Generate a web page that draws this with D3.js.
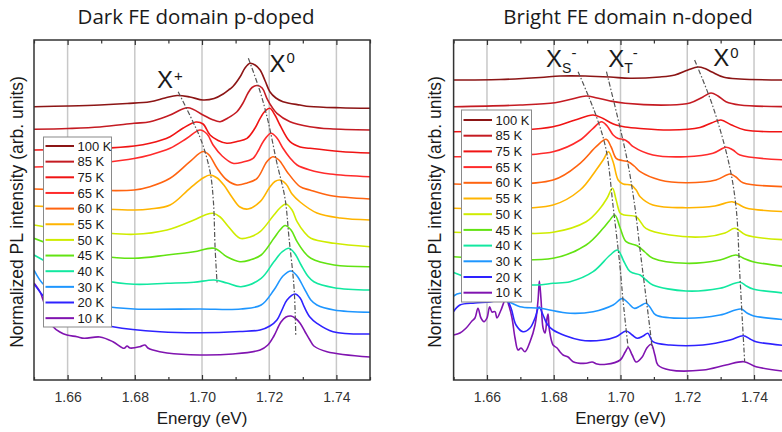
<!DOCTYPE html>
<html>
<head>
<meta charset="utf-8">
<script src="https://d3js.org/d3.v7.min.js"></script>
<style>
body { margin: 0; background: #fff; }
svg { display: block; }
text { font-family: "Liberation Sans", Arial, sans-serif; fill: #1a1a1a; }
</style>
</head>
<body>
<svg></svg>
<script>
const width = 782;
const height = 432;
const plotTop = 40;
const plotBottom = 380;

// temperatures, top curve first
const temps = ['100 K', '85 K', '75 K', '65 K', '60 K', '55 K', '50 K', '45 K', '40 K', '30 K', '20 K', '10 K'];
const lineColors = ['#8c1515', '#c41b22', '#f01414', '#ff2b2b', '#ff6410', '#ffb400', '#cfec00', '#62e312',
	'#12e8a0', '#1e96ff', '#2e22ff', '#8014b0'];

const energyDomain = [1.65, 1.75];
const intensityDomain = [0, 34];
const energyTicks = [1.66, 1.68, 1.70, 1.72, 1.74];
const minorTicks = [1.65, 1.67, 1.69, 1.71, 1.73, 1.75];

// dark FE domain (p-doped): [energy eV, stacked normalized intensity]
const darkSpectra = [
	// 100 K
	[[1.65,27.33],[1.6601,27.4],[1.6696,27.5],[1.6777,27.65],[1.6845,27.83],[1.689,28.2],[1.6926,28.45],[1.6964,28.3],[1.7003,28.0],[1.7036,28.15],[1.7063,28.6],[1.7083,29.1],[1.7092,29.35],[1.7113,30.3],[1.7128,31.2],[1.7143,31.67],[1.7158,31.5],[1.7173,31.0],[1.7188,29.9],[1.7202,28.83],[1.722,28.2],[1.7241,27.83],[1.7292,27.5],[1.7321,27.35],[1.7411,27.22],[1.75,27.17]],
	// 85 K
	[[1.65,25.07],[1.6601,25.15],[1.6696,25.3],[1.6798,25.67],[1.6845,25.83],[1.6905,26.5],[1.6958,27.23],[1.7003,26.5],[1.703,26.05],[1.7054,25.83],[1.7077,26.2],[1.7104,26.83],[1.7122,27.7],[1.7137,28.7],[1.7149,29.25],[1.7164,29.45],[1.7179,29.2],[1.7193,28.17],[1.7208,27.3],[1.7223,26.67],[1.7262,25.83],[1.7321,25.33],[1.7381,25.12],[1.75,25.0]],
	// 75 K
	[[1.65,23.0],[1.6601,23.05],[1.6696,23.15],[1.6798,23.4],[1.6845,23.67],[1.6905,24.33],[1.6943,25.17],[1.6982,25.8],[1.7003,25.6],[1.7024,24.5],[1.7048,23.95],[1.7074,23.67],[1.7104,23.85],[1.7134,24.17],[1.7158,25.2],[1.7173,26.17],[1.7188,26.9],[1.7202,27.17],[1.7217,26.5],[1.7232,25.5],[1.7262,23.83],[1.7292,23.3],[1.7321,23.17],[1.7411,22.85],[1.75,22.7]],
	// 65 K
	[[1.65,21.3],[1.6601,21.4],[1.6696,21.7],[1.6798,22.15],[1.6845,22.5],[1.6905,23.17],[1.6955,24.17],[1.6994,25.0],[1.7015,24.6],[1.7033,23.5],[1.706,22.4],[1.7092,21.67],[1.7122,21.8],[1.7152,22.17],[1.7167,22.9],[1.7182,23.83],[1.7205,24.67],[1.7223,24.2],[1.7241,23.17],[1.7262,22.2],[1.7283,21.5],[1.7321,21.0],[1.7381,20.6],[1.75,20.33]],
	// 60 K
	[[1.65,19.1],[1.6601,19.0],[1.6696,18.95],[1.6798,19.0],[1.6845,19.33],[1.6905,20.17],[1.6964,21.83],[1.7003,22.85],[1.7021,22.5],[1.7045,21.17],[1.7074,20.0],[1.7104,19.5],[1.7134,19.7],[1.7164,20.17],[1.7193,21.83],[1.7211,22.33],[1.7229,22.0],[1.7253,20.83],[1.7292,19.33],[1.7321,19.0],[1.7381,18.45],[1.75,18.1]],
	// 55 K
	[[1.65,17.4],[1.6601,17.25],[1.6696,17.1],[1.6798,17.0],[1.6845,17.1],[1.6905,17.5],[1.6964,19.17],[1.7003,20.2],[1.7024,20.5],[1.7045,20.2],[1.7065,19.5],[1.7089,18.3],[1.7113,17.3],[1.7137,17.1],[1.7173,17.83],[1.7202,19.3],[1.7217,19.85],[1.7232,20.0],[1.725,19.6],[1.7268,18.6],[1.7292,17.8],[1.7342,16.7],[1.7411,16.2],[1.75,16.0]],
	// 50 K
	[[1.65,15.5],[1.6601,15.0],[1.6696,14.75],[1.6798,14.57],[1.6896,15.0],[1.6976,16.0],[1.7009,16.5],[1.7033,16.67],[1.7054,16.3],[1.7077,15.4],[1.7113,14.17],[1.7143,14.3],[1.7173,14.83],[1.7214,16.5],[1.7232,17.2],[1.725,17.6],[1.7268,17.0],[1.7283,15.83],[1.7304,14.8],[1.7324,14.17],[1.7393,13.67],[1.75,13.33]],
	// 45 K
	[[1.65,14.17],[1.6601,13.0],[1.6696,12.4],[1.6798,12.17],[1.6896,12.5],[1.6976,12.83],[1.7036,13.17],[1.7074,12.33],[1.7113,11.83],[1.7143,12.0],[1.7176,12.5],[1.7214,14.17],[1.7232,15.0],[1.7247,15.45],[1.7265,15.0],[1.7283,13.83],[1.7304,12.8],[1.7324,12.17],[1.7393,11.5],[1.75,11.33]],
	// 40 K
	[[1.65,12.5],[1.6601,10.8],[1.6696,10.0],[1.6798,9.57],[1.6896,9.67],[1.6976,9.77],[1.7036,10.0],[1.7074,9.7],[1.7116,9.33],[1.7176,10.17],[1.7214,11.83],[1.7238,12.8],[1.7259,13.17],[1.7277,12.6],[1.7295,11.5],[1.7315,10.4],[1.7333,9.83],[1.7393,9.23],[1.75,9.0]],
	// 30 K
	[[1.65,11.0],[1.653,9.5],[1.6601,8.0],[1.6696,7.4],[1.6798,7.1],[1.6994,7.1],[1.7116,7.1],[1.7176,7.5],[1.7214,9.0],[1.7241,10.4],[1.7265,10.9],[1.7283,10.4],[1.7304,9.17],[1.7324,8.0],[1.7342,7.5],[1.7393,7.0],[1.75,6.77]],
	// 20 K
	[[1.65,9.6],[1.6518,8.8],[1.653,8.3],[1.6577,7.0],[1.6637,6.2],[1.6735,5.33],[1.6875,4.83],[1.6994,4.73],[1.7113,4.85],[1.7173,5.0],[1.7202,5.4],[1.7223,6.0],[1.7238,7.0],[1.7253,8.0],[1.7277,8.6],[1.7292,8.2],[1.7304,7.33],[1.7321,6.3],[1.7342,5.67],[1.739,4.83],[1.75,4.6]],
	// 10 K
	[[1.65,9.7],[1.6518,8.8],[1.6527,8.0],[1.6542,6.5],[1.6557,5.33],[1.6577,4.8],[1.6598,4.5],[1.6628,4.33],[1.6649,4.17],[1.6696,4.3],[1.6735,3.83],[1.6768,3.17],[1.6777,3.4],[1.6786,3.2],[1.6815,3.33],[1.683,3.5],[1.6839,3.2],[1.6854,3.0],[1.6896,2.7],[1.6994,2.5],[1.7092,2.6],[1.7173,3.0],[1.7196,3.5],[1.7214,4.4],[1.7235,5.8],[1.725,6.3],[1.7265,6.4],[1.7277,6.2],[1.7292,5.67],[1.7307,4.8],[1.7321,4.0],[1.7333,3.4],[1.7372,2.83],[1.75,2.3]]
];

// bright FE domain (n-doped)
const brightSpectra = [
	// 100 K
	[[1.65,30.0],[1.6639,30.05],[1.6759,30.25],[1.6819,30.4],[1.6894,30.4],[1.6969,30.3],[1.7029,30.17],[1.7118,30.3],[1.7163,30.5],[1.7202,31.0],[1.7232,31.3],[1.7253,31.15],[1.7274,30.8],[1.731,30.27],[1.7358,30.1],[1.75,30.0]],
	// 85 K
	[[1.65,27.33],[1.6699,27.5],[1.6804,27.73],[1.6855,28.1],[1.6897,28.4],[1.693,28.2],[1.6969,27.9],[1.7014,27.67],[1.7148,27.5],[1.7208,27.7],[1.7247,28.3],[1.7271,28.7],[1.7292,28.4],[1.7316,27.83],[1.7358,27.5],[1.75,27.33]],
	// 75 K
	[[1.65,24.83],[1.6699,25.0],[1.6798,25.33],[1.6864,26.0],[1.6918,26.5],[1.6948,26.15],[1.6969,25.75],[1.6987,25.5],[1.7014,25.3],[1.7059,25.15],[1.7148,25.0],[1.7238,25.25],[1.7274,25.73],[1.7301,26.0],[1.7331,25.53],[1.7373,25.0],[1.75,24.83]],
	// 65 K
	[[1.65,22.33],[1.6798,22.83],[1.6879,24.0],[1.6918,25.17],[1.6943,25.83],[1.696,25.4],[1.6978,24.5],[1.6993,24.15],[1.7008,24.07],[1.7023,23.8],[1.7038,23.33],[1.7097,22.5],[1.7196,22.33],[1.7277,22.67],[1.7316,23.27],[1.7337,23.0],[1.7358,22.5],[1.75,22.0]],
	// 60 K
	[[1.65,19.6],[1.6798,20.0],[1.6879,21.67],[1.6927,23.33],[1.6957,24.07],[1.6972,23.3],[1.6987,22.17],[1.7005,21.95],[1.7023,21.83],[1.7041,21.4],[1.7059,20.83],[1.7118,20.0],[1.7196,19.73],[1.7286,20.0],[1.7328,20.6],[1.7346,20.3],[1.7367,19.73],[1.75,19.33]],
	// 55 K
	[[1.65,17.17],[1.6798,17.5],[1.6879,19.0],[1.6927,21.0],[1.6948,22.0],[1.6964,22.83],[1.6978,21.8],[1.6993,20.0],[1.7008,19.6],[1.7032,19.5],[1.7047,19.0],[1.7059,18.33],[1.7097,17.5],[1.7196,17.23],[1.7283,17.4],[1.7334,17.83],[1.7352,17.6],[1.7376,17.2],[1.75,16.83]],
	// 50 K
	[[1.65,14.77],[1.6699,14.67],[1.6798,14.77],[1.6897,15.83],[1.6939,17.17],[1.696,18.2],[1.6976,19.17],[1.6987,18.0],[1.6999,16.7],[1.7011,16.5],[1.7047,16.33],[1.7076,15.17],[1.7148,14.5],[1.7256,14.33],[1.7313,14.7],[1.7343,15.17],[1.7376,14.5],[1.75,14.0]],
	// 45 K
	[[1.65,12.33],[1.6798,12.17],[1.6897,13.5],[1.6948,15.17],[1.6966,15.9],[1.6983,16.5],[1.6999,15.2],[1.7017,13.83],[1.705,13.43],[1.7073,12.8],[1.7097,12.17],[1.7196,11.67],[1.7298,12.0],[1.7346,12.5],[1.7367,12.2],[1.7397,11.83],[1.75,11.33]],
	// 40 K
	[[1.65,10.75],[1.6549,10.2],[1.6747,9.5],[1.6798,9.67],[1.6849,9.83],[1.6918,10.83],[1.6969,12.5],[1.6991,13.0],[1.7011,11.8],[1.7029,10.83],[1.7059,10.5],[1.7077,10.0],[1.7097,9.5],[1.7196,8.9],[1.7298,9.17],[1.7358,9.77],[1.7377,9.4],[1.7397,9.1],[1.75,8.67]],
	// 30 K
	[[1.65,8.4],[1.6519,8.67],[1.6579,8.2],[1.6663,7.83],[1.6699,7.33],[1.6759,7.17],[1.6849,6.67],[1.6918,6.83],[1.6978,7.5],[1.7005,8.15],[1.7023,7.7],[1.7041,7.17],[1.7059,7.4],[1.7076,7.67],[1.7088,7.3],[1.7106,6.5],[1.7196,6.17],[1.7298,6.5],[1.7361,7.1],[1.7379,6.7],[1.7397,6.43],[1.75,6.0]],
	// 20 K
	[[1.65,6.85],[1.6519,7.5],[1.6564,7.7],[1.6609,7.8],[1.6639,8.0],[1.6657,8.15],[1.6672,7.2],[1.6687,5.5],[1.6708,4.83],[1.6729,5.2],[1.6744,6.2],[1.6756,7.3],[1.6768,6.5],[1.678,5.6],[1.6798,5.0],[1.6879,4.0],[1.6948,4.0],[1.6987,4.33],[1.7017,4.9],[1.7035,4.5],[1.705,4.17],[1.7068,4.4],[1.7082,4.67],[1.7097,3.83],[1.7148,3.5],[1.7247,3.5],[1.7328,4.0],[1.7368,4.43],[1.7388,4.1],[1.7406,3.83],[1.75,3.43]],
	// 10 K
	[[1.65,4.5],[1.6519,4.7],[1.6537,5.17],[1.6555,5.9],[1.6564,6.2],[1.6573,7.17],[1.6582,6.2],[1.6591,5.83],[1.66,6.2],[1.6608,7.33],[1.6615,6.8],[1.6624,6.83],[1.663,6.2],[1.6642,7.0],[1.6657,8.15],[1.6666,7.4],[1.6675,6.2],[1.6684,4.2],[1.6693,3.0],[1.6702,3.2],[1.6714,2.83],[1.6729,3.83],[1.6744,5.5],[1.6753,8.0],[1.6757,9.9],[1.6762,8.0],[1.6768,5.2],[1.6774,4.7],[1.678,6.2],[1.6783,6.6],[1.6787,5.0],[1.6798,3.5],[1.681,3.2],[1.6819,2.8],[1.6828,2.5],[1.6843,2.3],[1.6858,1.83],[1.6897,1.67],[1.6915,1.8],[1.693,1.6],[1.6957,1.57],[1.6999,2.0],[1.7014,2.8],[1.7023,3.25],[1.7035,2.5],[1.7047,1.8],[1.7065,2.3],[1.7079,3.2],[1.7092,3.57],[1.7103,2.5],[1.7112,1.5],[1.7148,1.0],[1.7247,1.0],[1.7316,1.5],[1.737,1.83],[1.7406,1.33],[1.75,0.83]]
];

// peak-position guides (dash-dot)
const darkGuides = [
	[[1.6929,28.83],[1.6973,25.83],[1.6999,23.83],[1.7024,20.83],[1.7034,17.83],[1.7039,13.2],[1.7045,9.6]],
	[[1.7138,32.17],[1.7173,28.83],[1.7197,25.83],[1.7222,21.83],[1.7247,18.17],[1.7259,14.2],[1.7274,9.2],[1.7279,4.5]]
];
const brightGuides = [
	[[1.6873,30.83],[1.6928,26.33],[1.6957,23.0],[1.6978,17.33],[1.6998,11.5],[1.7008,7.83],[1.7023,3.17]],
	[[1.6958,30.83],[1.6998,25.33],[1.7023,21.5],[1.7043,17.33],[1.7058,13.17],[1.7073,9.17],[1.7088,5.17],[1.7095,3.17]],
	[[1.7222,32.0],[1.7277,27.33],[1.7327,21.33],[1.7347,17.0],[1.7357,10.83],[1.7368,4.17],[1.7372,1.83]]
];

var svg;

function drawPanel(p){
	const x = d3.scaleLinear().domain(energyDomain).range([p.left, p.right]);
	const y = d3.scaleLinear().domain(intensityDomain).range([plotBottom, plotTop]);
	const g = svg.append('g');

	const clipId = 'clip-' + p.id;
	g.append('clipPath').attr('id', clipId).append('rect')
	.attr('x', p.left).attr('y', plotTop)
	.attr('width', p.right - p.left).attr('height', plotBottom - plotTop);

	// vertical grid at major ticks
	g.selectAll('line.grid').data(energyTicks).enter().append('line')
	.classed('grid', true)
	.attr('x1', d => x(d)).attr('x2', d => x(d))
	.attr('y1', plotTop).attr('y2', plotBottom)
	.style('stroke', '#c8c8c8').style('stroke-width', 1.5);

	// bottom axis, ticks inward
	const axB = g.append('g').attr('transform', 'translate(0,' + plotBottom + ')')
	.call(d3.axisBottom(x).tickValues(energyTicks).tickFormat(d3.format('.2f'))
		.tickSizeInner(-5).tickSizeOuter(0).tickPadding(12));
	axB.select('.domain').remove();
	axB.selectAll('text').style('font-size', '14px').style('fill', '#333');
	axB.selectAll('line').style('stroke', '#333').style('stroke-width', 1.2);

	const axBm = g.append('g').attr('transform', 'translate(0,' + plotBottom + ')')
	.call(d3.axisBottom(x).tickValues(minorTicks).tickFormat('').tickSizeInner(-3).tickSizeOuter(0));
	axBm.select('.domain').remove();
	axBm.selectAll('line').style('stroke', '#333').style('stroke-width', 1.2);

	// top axis, ticks inward, no labels
	const axT = g.append('g').attr('transform', 'translate(0,' + plotTop + ')')
	.call(d3.axisTop(x).tickValues(energyTicks).tickFormat('').tickSizeInner(-5).tickSizeOuter(0));
	axT.select('.domain').remove();
	axT.selectAll('line').style('stroke', '#333').style('stroke-width', 1.2);

	const axTm = g.append('g').attr('transform', 'translate(0,' + plotTop + ')')
	.call(d3.axisTop(x).tickValues(minorTicks).tickFormat('').tickSizeInner(-3.5).tickSizeOuter(0));
	axTm.select('.domain').remove();
	axTm.selectAll('line').style('stroke', '#333').style('stroke-width', 1.2);

	// spectra, lowest first
	const line = d3.line().x(d => x(d[0])).y(d => y(d[1])).curve(d3.curveCatmullRom.alpha(0.5));
	const curves = g.append('g').attr('clip-path', 'url(#' + clipId + ')');
	curves.selectAll('path.spectrum').data(p.spectra.map((s, i) => ({s: s, i: i})).reverse())
	.enter().append('path').classed('spectrum', true)
	.attr('d', d => line(d.s))
	.style('fill', 'none').style('stroke', d => lineColors[d.i])
	.style('stroke-width', 1.6).style('stroke-linejoin', 'round');

	// dash-dot guides
	const guide = d3.line().x(d => x(d[0])).y(d => y(d[1])).curve(d3.curveCatmullRom);
	curves.selectAll('path.guide').data(p.guides).enter().append('path')
	.classed('guide', true).attr('d', guide)
	.style('fill', 'none').style('stroke', '#555').style('stroke-width', 1.2)
	.style('stroke-dasharray', '5,2,1.5,2');

	// frame
	g.append('rect').attr('x', p.left).attr('y', plotTop)
	.attr('width', p.right - p.left).attr('height', plotBottom - plotTop)
	.style('fill', 'none').style('stroke', '#333').style('stroke-width', 1.5);

	// peak labels
	p.labels.forEach(l => {
		const t = g.append('text').attr('x', x(l.e)).attr('y', y(l.v))
		.style('font-size', '24px');
		t.append('tspan').text('X');
		if(l.sub){
			t.append('tspan').text(l.sub).attr('dy', 6).style('font-size', '14px');
			t.append('tspan').text(l.sup).attr('dy', -15).attr('dx', 0).style('font-size', '15px');
		} else {
			t.append('tspan').text(l.sup).attr('dy', l.supDy).attr('dx', 1).style('font-size', '15px');
		}
	});

	// legend
	const lg = g.append('g').attr('transform', 'translate(' + p.legendX + ',' + p.legendY + ')');
	lg.append('rect').attr('width', p.legendW).attr('height', p.legendH)
	.style('fill', '#fff').style('stroke', '#8a8a8a').style('stroke-width', 1);
	const rows = lg.selectAll('g.row').data(temps).enter().append('g').classed('row', true)
	.attr('transform', (d, i) => 'translate(0,' + (p.legendFirst + i * p.legendStep) + ')');
	rows.append('line').attr('x1', 2).attr('x2', 30.5).attr('y1', 0).attr('y2', 0)
	.style('stroke', (d, i) => lineColors[i]).style('stroke-width', 2);
	rows.append('text').attr('x', 34).attr('dy', '0.36em').text(d => d)
	.style('font-size', '13px');

	// titles
	g.append('text').attr('x', p.titleX).attr('y', 24).attr('text-anchor', 'middle')
	.text(p.title).style('font-family', '"Open Sans", sans-serif').style('font-size', '20.5px');
	g.append('text').attr('x', (p.left + p.right) / 2).attr('y', 424).attr('text-anchor', 'middle')
	.text('Energy (eV)').style('font-size', '17px');
	g.append('text').attr('transform', 'translate(' + p.yLabelX + ',212) rotate(-90)')
	.attr('text-anchor', 'middle').text('Normalized PL intensity (arb. units)')
	.style('font-size', '17.5px');
}

function init(){
	svg = d3.select('svg').attr('width', width).attr('height', height);

	const panels = [
		{id: 'dark', title: 'Dark FE domain p-doped', spectra: darkSpectra, guides: darkGuides,
			left: 34, right: 370, titleX: 196, yLabelX: 23,
			legendX: 43.5, legendY: 137, legendW: 68, legendH: 190, legendFirst: 9, legendStep: 15.65,
			labels: [{e: 1.6866, v: 29.2, sup: '+', supDy: -7}, {e: 1.7201, v: 30.8, sup: '0', supDy: -9}]},
		{id: 'bright', title: 'Bright FE domain n-doped', spectra: brightSpectra, guides: brightGuides,
			left: 453.6, right: 787.4, titleX: 628, yLabelX: 441,
			legendX: 461.5, legendY: 110, legendW: 70, legendH: 192, legendFirst: 10, legendStep: 15.7,
			labels: [{e: 1.6777, v: 31.3, sub: 'S', sup: '-'}, {e: 1.6963, v: 31.3, sub: 'T', sup: '-'},
				{e: 1.7278, v: 31.4, sup: '0', supDy: -8}]}
	];
	panels.forEach(drawPanel);
}

init();
</script>
</body>
</html>
